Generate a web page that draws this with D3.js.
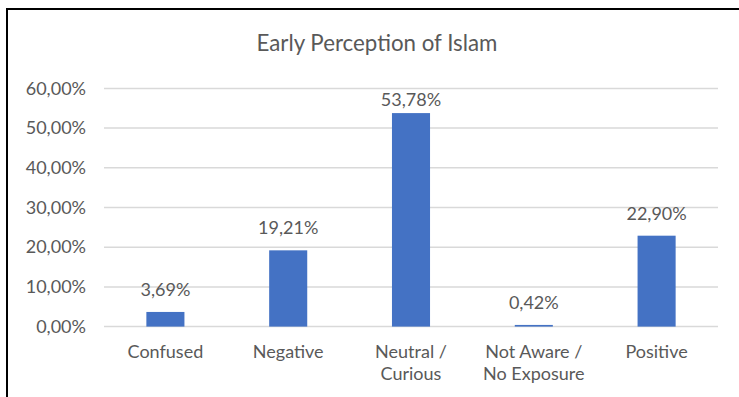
<!DOCTYPE html>
<html><head><meta charset="utf-8">
<script src="https://cdn.jsdelivr.net/npm/d3@7"></script>
<style>
html,body{margin:0;padding:0;background:#fff;}
svg{display:block;}
text{font-family:Lato, "Open Sans", sans-serif;fill:#595959;}
</style></head>
<body>
<svg id="chart" width="739" height="397"></svg>
<script>
const title = "Early Perception of Islam";
const categories = [["Confused"],["Negative"],["Neutral /","Curious"],["Not Aware /","No Exposure"],["Positive"]];
const values = [3.69, 19.21, 53.78, 0.42, 22.90];
const yTicks = [0,10,20,30,40,50,60];

const svg = d3.select("#chart");
const W = 739, H = 397;
svg.append("rect").attr("x",7).attr("y",9).attr("width",W+20).attr("height",H+20)
  .attr("fill","none").attr("stroke","#000").attr("stroke-width",2);

const x = d3.scaleBand().domain(d3.range(categories.length)).range([104,718]).paddingInner(0.69).paddingOuter(0.345);
const y = d3.scaleLinear().domain([0,60]).range([326.6,88.4]);

const fmt = v => v.toFixed(2).replace(".",",") + "%";

svg.append("text").attr("x",377).attr("y",50.5).attr("text-anchor","middle")
  .style("font-size","22.3px").text(title);

svg.append("g").selectAll("line").data(yTicks).join("line")
  .attr("x1",104).attr("x2",718).attr("y1",d=>y(d)).attr("y2",d=>y(d))
  .attr("stroke","#d9d9d9").attr("stroke-width",1.5);

const yAxis = d3.axisLeft(y).tickValues(yTicks).tickFormat(fmt).tickSize(0).tickPadding(0);
const ya = svg.append("g").attr("transform","translate(86,0)").call(yAxis);
ya.select(".domain").remove();
ya.selectAll("text").style("font-size","18px").attr("fill","#595959").attr("font-family","Lato");

svg.append("g").selectAll("rect").data(values).join("rect")
  .attr("x",(d,i)=>x(i)).attr("width",x.bandwidth())
  .attr("y",d=>y(d)).attr("height",d=>y(0)-y(d)).attr("fill","#4472C4");

svg.append("g").selectAll("text").data(values).join("text")
  .attr("x",(d,i)=>x(i)+x.bandwidth()/2)
  .attr("y",d=>Math.max(y(d)-16, y(60)+18))
  .attr("text-anchor","middle").style("font-size","18px").text(fmt);

const cg = svg.append("g").selectAll("text").data(categories).join("text")
  .attr("x",(d,i)=>x(i)+x.bandwidth()/2).attr("y",358)
  .attr("text-anchor","middle").style("font-size","18px");
cg.selectAll("tspan").data(d=>d).join("tspan")
  .attr("x",function(){return this.parentNode.getAttribute("x");})
  .attr("dy",(d,i)=>i===0?0:22).text(d=>d);
</script>
</body></html>
